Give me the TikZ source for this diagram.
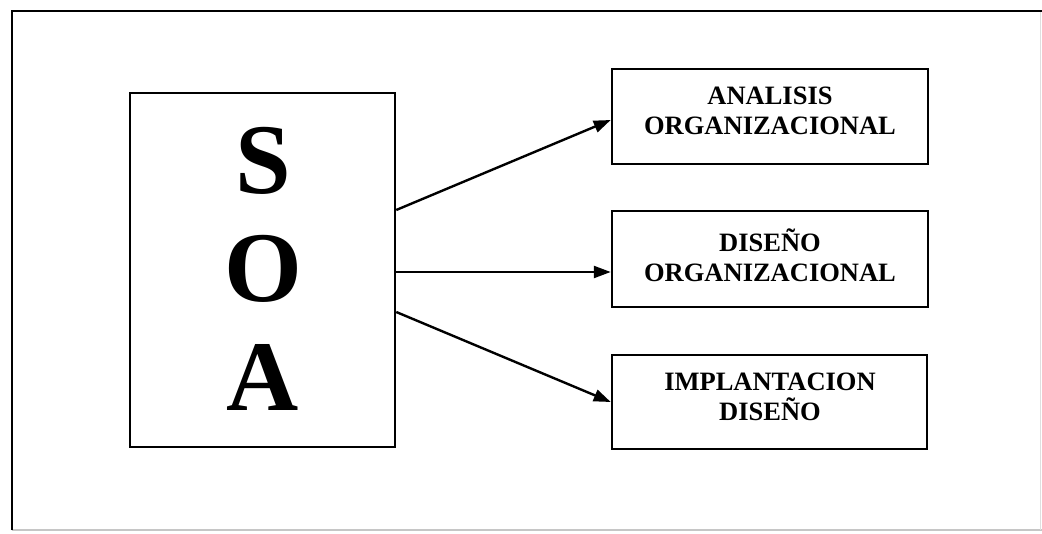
\documentclass[tikz,border=0pt]{standalone}
\usepackage{fontspec}
\setmainfont{Liberation Serif}
\usetikzlibrary{arrows.meta}
\tikzset{
  box/.style={draw=black, line width=2.5pt, rectangle, inner sep=0pt},
  lbl/.style={font=\fontsize{26.5}{30}\selectfont\bfseries, align=center, inner sep=0pt},
  big/.style={font=\fontsize{100}{100}\selectfont\bfseries, inner sep=0pt},
  link/.style={line width=2.4pt, -{Triangle[length=17pt,width=12pt]}},
}
\begin{document}
\begin{tikzpicture}[x=1pt, y=-1pt]
\useasboundingbox (0,0) rectangle (1042,534);
% page frame
\draw[gray!45, line width=1.2pt] (12,530) -- (1042,530);
\draw[gray!25, line width=1pt] (1040,11) -- (1040,530);
\draw[black, line width=2.6pt] (12,530) -- (12,11) -- (1042,11);

% main block
\node[box, minimum width=265pt, minimum height=354pt] (soa) at (262.5,270) {};
\node[big] (s) at (263,161) {S};
\node[big] (o) at (263,269) {O};
\node[big] (a) at (263,377) {A};

% phases
\node[box, minimum width=316pt, minimum height=95pt] (b1) at (770,116.5) {};
\node[box, minimum width=316pt, minimum height=96pt] (b2) at (770,259) {};
\node[box, minimum width=315pt, minimum height=94pt] (b3) at (769.5,402) {};
\node[lbl] (t1) at (770,111) {ANALISIS\\ORGANIZACIONAL};
\node[lbl] (t2) at (770,255) {DISEÑO\\ORGANIZACIONAL};
\node[lbl] (t3) at (770,396.5) {IMPLANTACION\\DISEÑO};

% connectors
\draw[link] ([yshift=60pt]soa.east) -- ([yshift=-3.5pt]b1.west);
\draw[link] ([yshift=-2pt]soa.east) -- ([yshift=-13pt]b2.west);
\draw[link] ([yshift=-42pt]soa.east) -- (b3.west);
\end{tikzpicture}
\end{document}
